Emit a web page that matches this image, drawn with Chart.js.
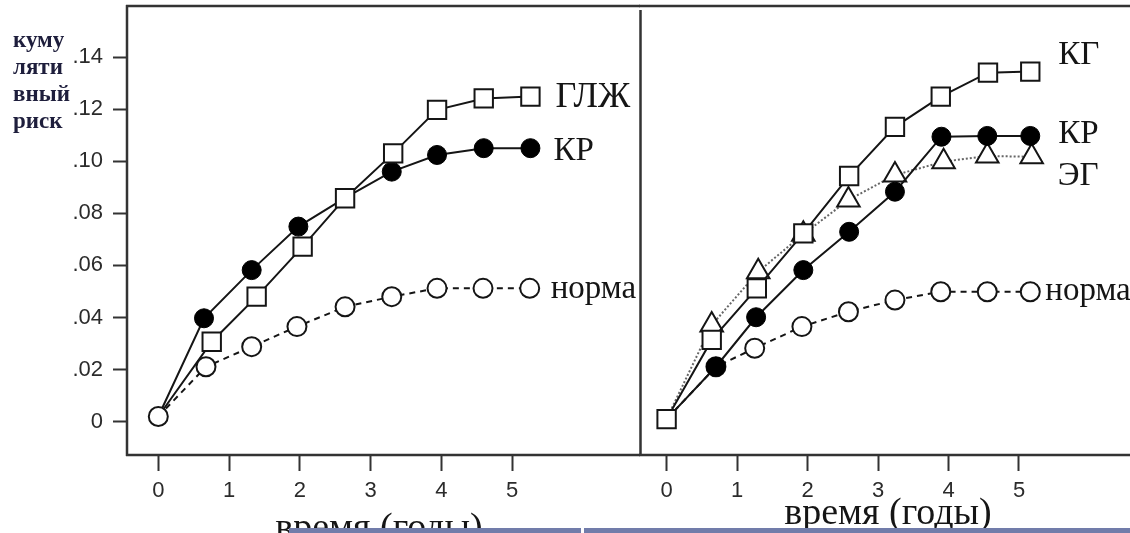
<!DOCTYPE html>
<html>
<head>
<meta charset="utf-8">
<script src="https://cdn.jsdelivr.net/npm/chart.js@4.4.1/dist/chart.umd.min.js"></script>
<style>
    html, body { margin: 0; padding: 0; background: #fff; }
    #wrap { position: relative; width: 1130px; height: 533px; overflow: hidden; }
    canvas { position: absolute; top: 0; }
    #left { left: 0; }
    #right { left: 639px; }
    .bar { position: absolute; top: 528px; height: 5px; background: #717caa; }
</style>
</head>
<body>
<div id="wrap">
    <canvas id="left" width="640" height="533"></canvas>
    <canvas id="right" width="491" height="533"></canvas>
    <div class="bar" style="left:289px;width:292px"></div>
    <div class="bar" style="left:584px;width:546px"></div>
</div>
<script>
    'use strict';

    // ticks
    var xTicks = [0, 1, 2, 3, 4, 5];
    var yTicks = [0, 0.02, 0.04, 0.06, 0.08, 0.10, 0.12, 0.14];

    // left panel
    var leftNames = ['ГЛЖ', 'КР', 'норма'];
    var leftTimeGLZh = [0, 0.755, 1.39, 2.04, 2.64, 3.32, 3.94, 4.60, 5.26];
    var leftRiskGLZh = [0.002, 0.0307, 0.048, 0.0672, 0.0858, 0.103, 0.1197, 0.1241, 0.1248];
    var leftTimeKR = [0, 0.646, 1.32, 1.98, 2.64, 3.30, 3.94, 4.60, 5.26];
    var leftRiskKR = [0.002, 0.0397, 0.0582, 0.0749, 0.0859, 0.096, 0.1024, 0.105, 0.105];
    var leftTimeNorm = [0, 0.674, 1.32, 1.96, 2.64, 3.30, 3.94, 4.59, 5.25];
    var leftRiskNorm = [0.002, 0.0211, 0.0288, 0.0365, 0.0441, 0.048, 0.0512, 0.0512, 0.0512];

    // right panel
    var rightNames = ['КГ', 'КР', 'ЭГ', 'норма'];
    var rightTimeKG = [0, 0.64, 1.28, 1.94, 2.59, 3.24, 3.89, 4.56, 5.16];
    var rightRiskKG = [0.001, 0.0314, 0.0512, 0.0723, 0.0943, 0.1132, 0.1248, 0.134, 0.1344];
    var rightTimeKR = [0, 0.70, 1.27, 1.94, 2.59, 3.24, 3.90, 4.55, 5.16];
    var rightRiskKR = [0.001, 0.0211, 0.0401, 0.0582, 0.0729, 0.0883, 0.1094, 0.1097, 0.1097];
    var rightTimeEG = [0, 0.64, 1.30, 1.94, 2.58, 3.24, 3.93, 4.55, 5.18];
    var rightRiskEG = [0.001, 0.0371, 0.0576, 0.072, 0.0851, 0.0947, 0.0998, 0.102, 0.1017];
    var rightTimeNorm = [0, 0.70, 1.25, 1.92, 2.58, 3.24, 3.89, 4.55, 5.16];
    var rightRiskNorm = [0.001, 0.0211, 0.0282, 0.0365, 0.0422, 0.0467, 0.0499, 0.0499, 0.0499];

    var INK = '#151515';
    var SERIF = '"Liberation Serif", "Times New Roman", serif';
    var SANS = '"Liberation Sans", Arial, sans-serif';

    function pts(xs, ys) {
        return xs.map(function (x, i) { return {x: x, y: ys[i]}; });
    }

    // marker radius, optionally hidden at the shared origin
    function radius(r, hideFirst) {
        return function (c) { return (hideFirst && c.dataIndex === 0) ? 0 : r; };
    }

    function squares(label, xs, ys, hideFirst) {
        return {
            label: label, data: pts(xs, ys), borderColor: INK, borderWidth: 2,
            pointStyle: 'rect', pointRadius: radius(13, hideFirst), pointBorderWidth: 2,
            pointBackgroundColor: '#fff', pointBorderColor: INK
        };
    }

    function dots(label, xs, ys, hideFirst) {
        return {
            label: label, data: pts(xs, ys), borderColor: INK, borderWidth: 2,
            pointStyle: 'circle', pointRadius: radius(9.5, hideFirst), pointBorderWidth: 1,
            pointBackgroundColor: '#000', pointBorderColor: '#000'
        };
    }

    function rings(label, xs, ys, hideFirst) {
        return {
            label: label, data: pts(xs, ys), borderColor: INK, borderWidth: 2,
            borderDash: [6, 5], pointStyle: 'circle', pointRadius: radius(9.5, hideFirst), pointBorderWidth: 2,
            pointBackgroundColor: '#fff', pointBorderColor: INK
        };
    }

    function triangles(label, xs, ys, hideFirst) {
        return {
            label: label, data: pts(xs, ys), borderColor: '#666', borderWidth: 2,
            borderDash: [2, 2], pointStyle: 'triangle', pointRadius: radius(13, hideFirst), pointBorderWidth: 2,
            pointBackgroundColor: '#fff', pointBorderColor: INK
        };
    }

    function gridOpts(len) {
        return {drawOnChartArea: false, drawTicks: true, tickLength: len, tickWidth: 2, tickColor: '#333', color: '#333'};
    }

    function xScale(min, max) {
        return {
            type: 'linear', min: min, max: max,
            afterBuildTicks: function (s) { s.ticks = xTicks.map(function (v) { return {value: v}; }); },
            afterFit: function (s) { s.height = 78; },
            border: {display: false},
            grid: gridOpts(16),
            ticks: {
                padding: 7, color: '#2b2b2b', maxRotation: 0, autoSkip: false,
                font: {family: SANS, size: 22},
                callback: function (v) { return String(v); }
            }
        };
    }

    var yMin = -0.01278, yMax = 0.15958;

    // frame lines + texts
    function decor(cfg) {
        return {
            id: 'decor',
            afterDraw: function (chart) {
                var ctx = chart.ctx;
                ctx.save();
                ctx.strokeStyle = '#333';
                ctx.lineWidth = 2.5;
                ctx.beginPath();
                cfg.lines.forEach(function (l) {
                    ctx.moveTo(l[0], l[1]);
                    ctx.lineTo(l[2], l[3]);
                });
                ctx.stroke();

                ctx.fillStyle = INK;
                ctx.textAlign = 'left';
                ctx.textBaseline = 'middle';
                cfg.notes.forEach(function (n) {
                    var meta = chart.getDatasetMeta(n.ds);
                    var p = meta.data[meta.data.length - 1];
                    ctx.font = (n.size || 33) + 'px ' + SERIF;
                    ctx.fillText(chart.data.datasets[n.ds].label, p.x + n.dx, p.y + n.dy);
                });

                ctx.textAlign = 'center';
                ctx.textBaseline = 'alphabetic';
                ctx.font = '38px ' + SERIF;
                ctx.fillText('время (годы)', cfg.titleX, cfg.titleY);

                if (cfg.yTitle) {
                    ctx.textAlign = 'left';
                    ctx.fillStyle = '#1e1e3c';
                    ctx.font = 'bold 23px ' + SERIF;
                    ['куму', 'ляти', 'вный', 'риск'].forEach(function (t, i) {
                        ctx.fillText(t, 13, 47 + i * 27);
                    });
                }
                ctx.restore();
            }
        };
    }

    var common = {
        responsive: false,
        animation: false,
        devicePixelRatio: 1,
        elements: {line: {tension: 0, fill: false}},
        plugins: {legend: {display: false}, tooltip: {enabled: false}}
    };

    new Chart(document.getElementById('left'), {
        type: 'line',
        data: {
            datasets: [
                rings(leftNames[2], leftTimeNorm, leftRiskNorm, false),
                squares(leftNames[0], leftTimeGLZh, leftRiskGLZh, true),
                dots(leftNames[1], leftTimeKR, leftRiskKR, true)
            ]
        },
        options: Object.assign({}, common, {
            layout: {autoPadding: false, padding: {top: 6, right: 0, bottom: 0, left: 0}},
            scales: {
                x: xScale(-0.4425, 6.809),
                y: {
                    type: 'linear', min: yMin, max: yMax,
                    afterBuildTicks: function (s) { s.ticks = yTicks.map(function (v) { return {value: v}; }); },
                    afterFit: function (s) { s.width = 127; s.paddingTop = 0; s.paddingBottom = 0; },
                    border: {display: false},
                    grid: gridOpts(14),
                    ticks: {
                        padding: 10, color: '#2b2b2b', font: {family: SANS, size: 22},
                        callback: function (v) {
                            if (Math.abs(v) < 1e-9) return '0';
                            return '.' + String(Math.round(v * 100)).padStart(2, '0');
                        }
                    }
                }
            }
        }),
        plugins: [decor({
            lines: [[126, 6, 640, 6], [127, 5, 127, 456], [126, 455, 640, 455]],
            notes: [{ds: 1, dx: 25, dy: 1, size: 36}, {ds: 2, dx: 23, dy: 3}, {ds: 0, dx: 21, dy: 1}],
            titleX: 379, titleY: 539, yTitle: true
        })]
    });

    new Chart(document.getElementById('right'), {
        type: 'line',
        data: {
            datasets: [
                squares(rightNames[0], rightTimeKG, rightRiskKG, false),
                dots(rightNames[1], rightTimeKR, rightRiskKR, true),
                triangles(rightNames[2], rightTimeEG, rightRiskEG, true),
                rings(rightNames[3], rightTimeNorm, rightRiskNorm, true)
            ]
        },
        options: Object.assign({}, common, {
            layout: {autoPadding: false, padding: {top: 6, right: 0, bottom: 0, left: 1.5}},
            scales: {
                x: xScale(-0.3703, 6.575),
                y: {type: 'linear', display: false, min: yMin, max: yMax}
            }
        }),
        plugins: [decor({
            lines: [[0, 6, 491, 6], [1.5, 10, 1.5, 456], [0, 455, 491, 455]],
            notes: [{ds: 0, dx: 28, dy: -16}, {ds: 1, dx: 28, dy: -2}, {ds: 2, dx: 26, dy: 20}, {ds: 3, dx: 15, dy: 0}],
            titleX: 249, titleY: 524, yTitle: false
        })]
    });
</script>
</body>
</html>
